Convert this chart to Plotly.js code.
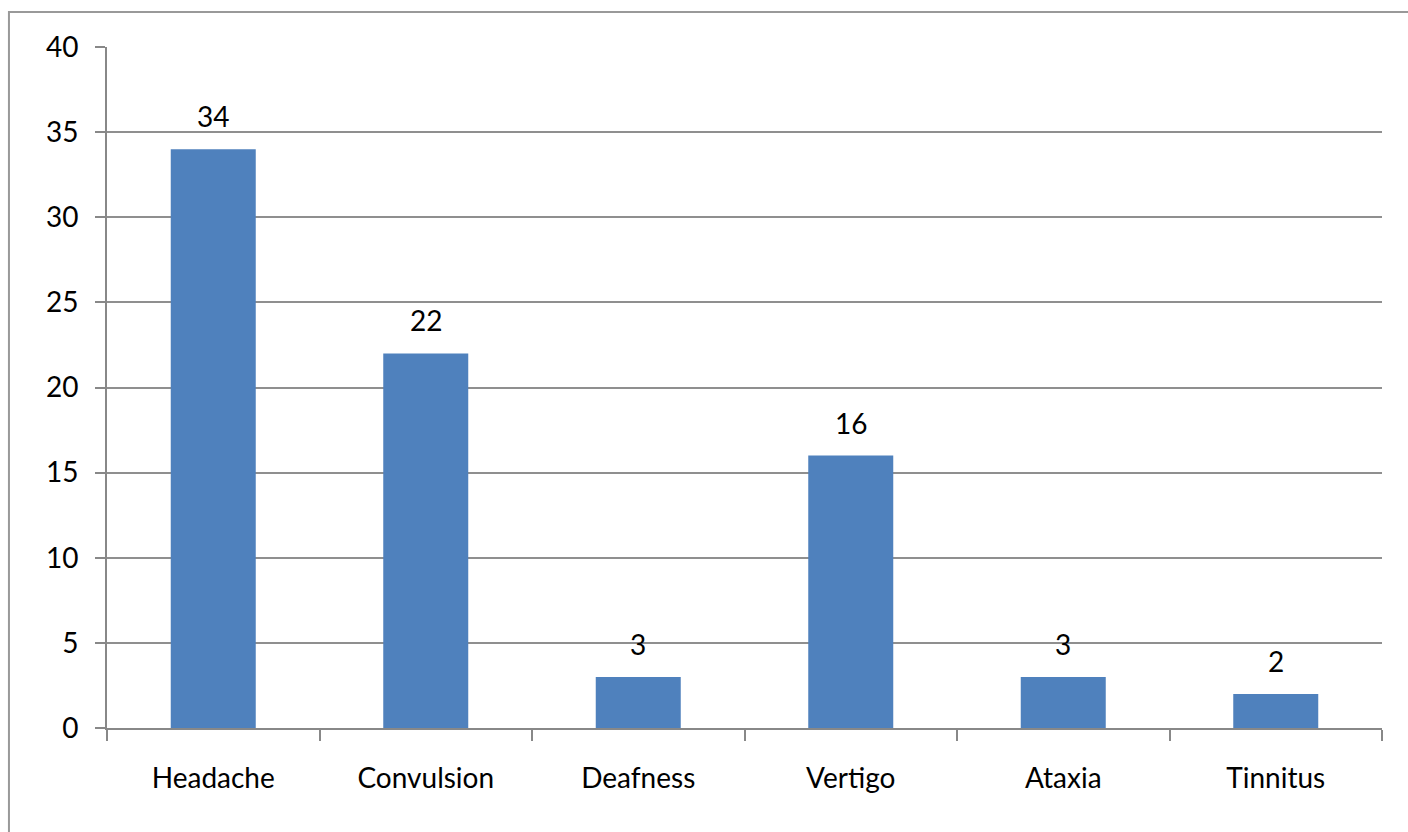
<!DOCTYPE html>
<html><head><meta charset="utf-8">
<script src="https://cdn.plot.ly/plotly-3.0.1.min.js"></script>
<style>html,body{margin:0;padding:0;background:#fff}#chart{width:1408px;height:832px}</style>
</head><body><div id="chart"></div>
<script>
const categories = ["Headache", "Convulsion", "Deafness", "Vertigo", "Ataxia", "Tinnitus"];
const values = [34, 22, 3, 16, 3, 2];
const yTicks = [0, 5, 10, 15, 20, 25, 30, 35, 40];

const FONT = "Lato, 'Open Sans', sans-serif";
const FS = 28;
const trace = {
  type: "bar", x: categories, y: values,
  marker: {color: "#4F81BD"},
  hoverinfo: "x+y"
};
const annotations = categories.map((c, i) => ({
  x: c, y: values[i], text: String(values[i]), showarrow: false,
  xref: "x", yref: "y", yanchor: "bottom", yshift: 14,
  font: {family: FONT, size: FS, color: "#000"}
}));
const layout = {
  width: 1408, height: 832,
  margin: {l: 107, r: 26, t: 47, b: 104},
  paper_bgcolor: "#fff", plot_bgcolor: "#fff",
  font: {family: FONT, size: FS, color: "#000"},
  bargap: 0.6,
  showlegend: false,
  xaxis: {
    type: "category", tickson: "boundaries", ticks: "outside", ticklen: 11,
    tickcolor: "#888", tickwidth: 2, showline: true, linecolor: "#888", linewidth: 2,
    showgrid: false, ticklabelstandoff: 24,
    tickfont: {family: FONT, size: FS, color: "#000"}
  },
  yaxis: {
    range: [0, 40], tickvals: yTicks, ticktext: yTicks.map(String),
    ticks: "outside", ticklen: 10, tickcolor: "#888", tickwidth: 2,
    showline: true, linecolor: "#888", linewidth: 2,
    showgrid: true, gridcolor: "#8f8f8f", gridwidth: 1.5, zeroline: false,
    ticklabelstandoff: 11,
    tickfont: {family: FONT, size: FS, color: "#000"}
  },
  annotations: annotations,
  shapes: [{
    type: "rect", xref: "paper", yref: "paper",
    x0: -0.0769, x1: 1.2, y0: -0.5, y1: 1.0514,
    line: {color: "#999", width: 2}, fillcolor: "rgba(0,0,0,0)", layer: "below"
  }]
};
Plotly.newPlot("chart", [trace], layout, {displayModeBar: false});
</script></body></html>
